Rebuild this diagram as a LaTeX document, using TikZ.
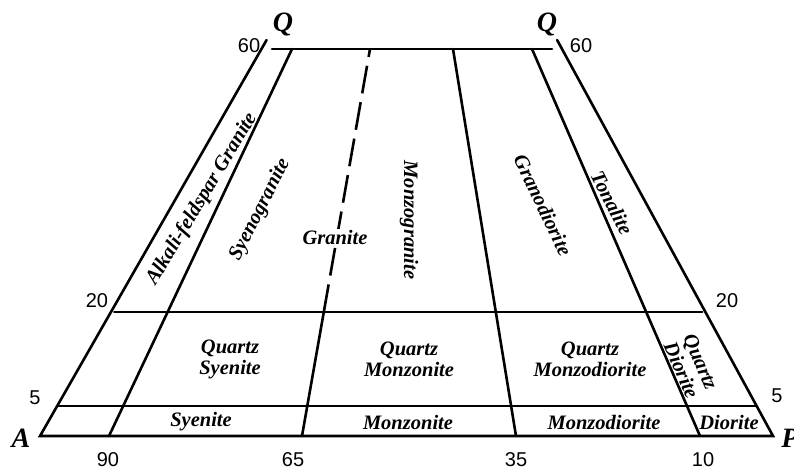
\documentclass[tikz,border=0pt]{standalone}
\usepackage{fontspec}
\setmainfont{Liberation Serif}
\newfontfamily\numfont{Liberation Sans}
\begin{document}
\begin{tikzpicture}[x=1pt,y=-1pt,
  lbl/.style={font=\fontsize{20.5}{21}\selectfont\bfseries\itshape, align=center, inner sep=0pt},
  num/.style={font=\numfont\fontsize{20}{20}\selectfont, inner sep=0pt},
  corner/.style={font=\fontsize{28}{28}\selectfont\bfseries\itshape, inner sep=0pt},
  bound/.style={line width=2.6pt, line cap=round},
  dashline/.style={line width=2.6pt, dash pattern=on 28pt off 9pt}]
\useasboundingbox (0,0) rectangle (794,474);
% corners and edge points
\coordinate (A) at (40,436);
\coordinate (P) at (773,436);
\coordinate (TL) at (272,49);
\coordinate (TR) at (552,49);
\coordinate (TLx) at (266.6,40);
\coordinate (TRx) at (557.1,40);
\coordinate (L20) at (114.3,312);
\coordinate (R20) at (702.2,312);
\coordinate (L5) at (58,406);
\coordinate (R5) at (755.9,406);
% internal line end points
\coordinate (B90) at (109,436);
\coordinate (T90) at (292,49);
\coordinate (B65) at (302,436);
\coordinate (M65) at (323.8,312);
\coordinate (T65) at (370,49);
\coordinate (B35) at (516,436);
\coordinate (T35) at (453,49);
\coordinate (B10) at (700,436);
\coordinate (T10) at (532,49);
% frame
\draw[bound] (TLx) -- (A) -- (P) -- (TRx);
\draw[bound] (TL) -- (TR);
\draw[bound] (L20) -- (R20);
\draw[bound] (L5) -- (R5);
% divisions
\draw[bound] (B90) -- (T90);
\draw[bound] (B65) -- (M65);
\draw[dashline] (M65) -- (T65);
\draw[bound] (B35) -- (T35);
\draw[bound] (B10) -- (T10);
% corner labels
\node[corner] (qa) at (283,24) {Q};
\node[corner] (qb) at (547,24) {Q};
\node[corner] (ca) at (21,438) {A};
\node[corner] (cp) at (790,438) {P};
% scale numbers
\node[num] (n60a) at (249,46) {60};
\node[num] (n60b) at (581,46) {60};
\node[num] (n20a) at (97,301) {20};
\node[num] (n20b) at (727,301) {20};
\node[num] (n5a) at (35,398) {5};
\node[num] (n5b) at (777,396) {5};
\node[num] (n90) at (108,460) {90};
\node[num] (n65) at (293,460) {65};
\node[num] (n35) at (516,460) {35};
\node[num] (n10) at (703,460) {10};
% field names
\node[lbl] (afg) at (202,199) [rotate=59] {Alkali-feldspar Granite};
\node[lbl] (syg) at (260,210) [rotate=63] {Syenogranite};
\node[lbl, fill=white, inner sep=1pt] (gra) at (335,237) {Granite};
\node[lbl] (mzg) at (409,220) [rotate=-90] {Monzogranite};
\node[lbl] (grd) at (543,205) [rotate=-64.5] {Granodiorite};
\node[lbl] (ton) at (612,203) [rotate=-63] {Tonalite};
\node[lbl] (qs) at (230,359) {Quartz\\Syenite};
\node[lbl] (qm) at (409,359) {Quartz\\Monzonite};
\node[lbl] (qmd) at (590,359) {Quartz\\Monzodiorite};
\node[lbl] (qd) at (691,366) [rotate=-66.5] {Quartz\\Diorite};
\node[lbl] (sy) at (201,422) {Syenite};
\node[lbl] (mz) at (408,422) {Monzonite};
\node[lbl] (mzd) at (604,422) {Monzodiorite};
\node[lbl] (dio) at (729,422) {Diorite};
\end{tikzpicture}
\end{document}
